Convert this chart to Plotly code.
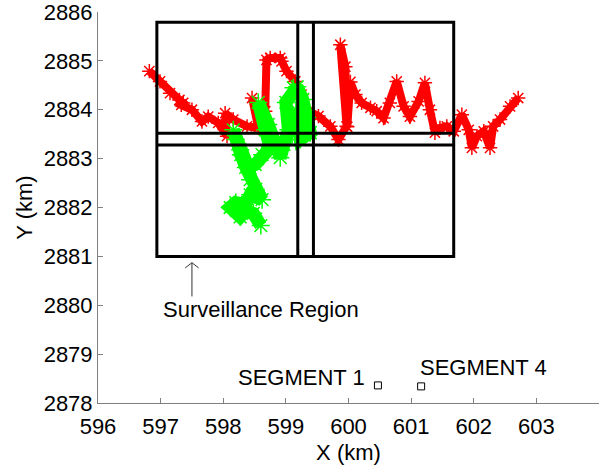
import plotly.graph_objects as go

# Red trajectory (km)
red_x = [596.82, 596.99, 597.15, 597.30, 597.36, 597.33, 597.50, 597.66, 597.76, 597.92,
         598.06, 598.03, 598.16, 598.38, 598.56, 598.46, 598.59, 598.67, 598.69, 598.75,
         598.91, 598.93, 599.01, 599.15, 599.25, 599.36, 599.52, 599.71, 599.84, 599.97,
         599.87, 599.95, 599.98, 600.03, 600.11, 600.21, 600.35, 600.45, 600.56, 600.66,
         600.77, 600.88, 600.98, 601.12, 601.22, 601.30, 601.38, 601.46, 601.57, 601.68,
         601.81, 601.92, 601.97, 602.05, 602.16, 602.26, 602.31, 602.42, 602.58, 602.71]
red_y = [2884.79, 2884.58, 2884.34, 2884.20, 2884.14, 2884.10, 2884.00, 2883.76, 2883.86, 2883.73,
         2883.46, 2883.93, 2883.80, 2883.66, 2883.63, 2884.24, 2883.70, 2883.97, 2885.02, 2885.06,
         2885.06, 2884.99, 2884.79, 2884.58, 2884.31, 2883.97, 2883.87, 2883.66, 2883.39, 2883.66,
         2885.33, 2884.88, 2883.65, 2884.57, 2884.31, 2884.14, 2884.04, 2883.97, 2883.83, 2884.14,
         2884.58, 2884.07, 2883.86, 2884.17, 2884.55, 2884.00, 2883.53, 2883.63, 2883.66, 2883.56,
         2883.90, 2883.59, 2883.22, 2883.46, 2883.56, 2883.22, 2883.66, 2883.80, 2884.07, 2884.24]

# Green trajectory (km)
green_x = [598.60, 598.48, 598.36, 598.27, 598.11, 598.20, 598.35, 598.43, 598.62, 598.52,
           598.43, 598.36, 598.28, 598.20, 598.16, 598.27, 598.40, 598.51, 598.62, 598.75,
           598.67, 598.56, 598.72, 598.91, 598.97, 599.04, 599.00, 599.12, 599.18, 599.27,
           599.34, 599.39, 599.23, 599.16, 599.10]
green_y = [2881.63, 2881.88, 2881.94, 2881.81, 2882.00, 2882.10, 2882.06, 2882.26, 2882.16, 2882.37,
           2882.57, 2882.82, 2883.08, 2883.39, 2883.59, 2883.18, 2882.82, 2882.88, 2883.08, 2883.22,
           2883.59, 2884.15, 2883.70, 2883.02, 2883.29, 2883.59, 2884.15, 2884.45, 2884.47, 2884.21,
           2883.84, 2883.53, 2883.39, 2884.00, 2883.49]

# Surveillance region grid
region_x = [596.94, 601.68]
region_y = [2881.00, 2885.79]
split_x = [599.19, 599.44]
split_y = [2883.28, 2883.52]

# Segments
seg_names = ["SEGMENT 1", "SEGMENT 4"]
seg_x = [600.47, 601.16]
seg_y = [2878.36, 2878.34]
seg_label_x = [598.20, 601.11]
seg_label_y = [2878.53, 2878.72]

# Annotation
region_label = "Surveillance Region"
region_label_pos = (597.0, 2879.91)
arrow_x = 597.5
arrow_y = [2880.18, 2880.87]

x_ticks = [596, 597, 598, 599, 600, 601, 602, 603]
y_ticks = [2878, 2879, 2880, 2881, 2882, 2883, 2884, 2885, 2886]

FONT = "Liberation Sans, Arial, Helvetica, sans-serif"
AX = "#7f7f7f"
FS = 22

fig = go.Figure()

fig.add_trace(go.Scatter(
    x=red_x, y=red_y, mode="lines+markers",
    line=dict(color="#ff0000", width=8),
    marker=dict(symbol="asterisk-open", size=12, color="#ff0000",
                line=dict(color="#ff0000", width=1.5)),
    showlegend=False, hoverinfo="skip"))

fig.add_trace(go.Scatter(
    x=green_x, y=green_y, mode="lines+markers",
    line=dict(color="#00ff00", width=13),
    marker=dict(symbol="asterisk-open", size=15, color="#00ff00",
                line=dict(color="#00ff00", width=1.5)),
    showlegend=False, hoverinfo="skip"))

fig.add_trace(go.Scatter(
    x=seg_x, y=seg_y, mode="markers",
    marker=dict(symbol="square-open", size=7, color="black",
                line=dict(color="black", width=1)),
    showlegend=False, hoverinfo="skip"))

shapes = []
lw = 3
shapes.append(dict(type="rect", xref="x", yref="y",
                   x0=region_x[0], x1=region_x[1], y0=region_y[0], y1=region_y[1],
                   line=dict(color="black", width=lw)))
for sx in split_x:
    shapes.append(dict(type="line", xref="x", yref="y", x0=sx, x1=sx,
                       y0=region_y[0], y1=region_y[1], line=dict(color="black", width=lw)))
for sy in split_y:
    shapes.append(dict(type="line", xref="x", yref="y", x0=region_x[0], x1=region_x[1],
                       y0=sy, y1=sy, line=dict(color="black", width=lw)))

# arrow
head_dx, head_dy = 0.107, 0.106
arrow_col = "#333333"
shapes.append(dict(type="line", xref="x", yref="y", x0=arrow_x, x1=arrow_x,
                   y0=arrow_y[0], y1=arrow_y[1], line=dict(color=arrow_col, width=1)))
for s in (-1, 1):
    shapes.append(dict(type="line", xref="x", yref="y", x0=arrow_x, x1=arrow_x + s * head_dx,
                       y0=arrow_y[1], y1=arrow_y[1] - head_dy, line=dict(color=arrow_col, width=1)))

annotations = [dict(x=region_label_pos[0], y=region_label_pos[1], text=region_label,
                    xref="x", yref="y", xanchor="left", yanchor="middle", showarrow=False,
                    font=dict(family=FONT, size=FS, color="black"))]
for name, lx, ly in zip(seg_names, seg_label_x, seg_label_y):
    annotations.append(dict(x=lx, y=ly, text=name, xref="x", yref="y", xanchor="left",
                            yanchor="middle", showarrow=False,
                            font=dict(family=FONT, size=FS, color="black")))

fig.update_layout(
    width=599, height=468,
    margin=dict(l=98, r=0, t=12, b=65),
    paper_bgcolor="white", plot_bgcolor="white",
    font=dict(family=FONT, size=FS, color="black"),
    shapes=shapes, annotations=annotations,
    xaxis=dict(range=[596, 604], tickvals=x_ticks, ticktext=[str(v) for v in x_ticks],
               showgrid=False, zeroline=False, showline=True, linecolor=AX, linewidth=1,
               ticks="inside", ticklen=5, tickcolor=AX, mirror=False,
               ticklabelstandoff=4, ticklabeloverflow="allow",
               title=dict(text="X (km)", standoff=6, font=dict(size=FS)),
               tickfont=dict(size=FS)),
    yaxis=dict(range=[2878, 2886], tickvals=y_ticks, ticktext=[str(v) for v in y_ticks],
               showgrid=False, zeroline=False, showline=True, linecolor=AX, linewidth=1,
               ticks="inside", ticklen=5, tickcolor=AX, mirror=False,
               ticklabeloverflow="allow",
               title=dict(text="Y (km)", standoff=4, font=dict(size=FS)),
               tickfont=dict(size=FS)),
)

fig.write_html("out.html")
